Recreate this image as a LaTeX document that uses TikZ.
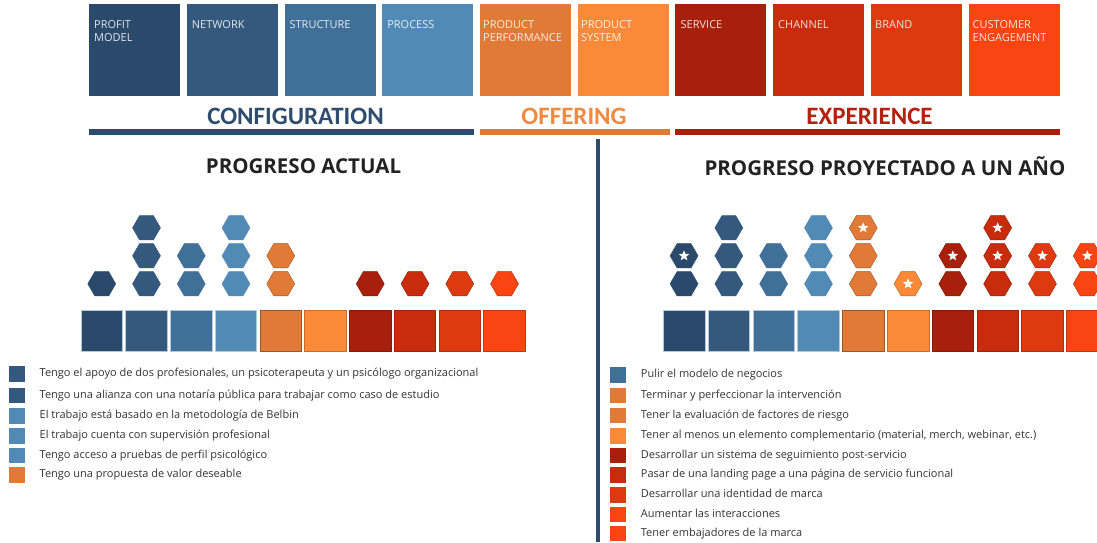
\documentclass[tikz,border=0pt]{standalone}
\usepackage{fontspec}
\setmainfont{Open Sans}
\newfontfamily\headfont{Carlito}
\usetikzlibrary{shapes.geometric}

\definecolor{profit}{HTML}{2B4A6B}
\definecolor{network}{HTML}{35597E}
\definecolor{structure}{HTML}{406F98}
\definecolor{process}{HTML}{508AB5}
\definecolor{performance}{HTML}{E07A36}
\definecolor{system}{HTML}{FA8A38}
\definecolor{service}{HTML}{A8200B}
\definecolor{channel}{HTML}{C92B0D}
\definecolor{brand}{HTML}{DE3A12}
\definecolor{engagement}{HTML}{FA4412}
\definecolor{confcol}{HTML}{2E4D6E}
\definecolor{offercol}{HTML}{F08A40}
\definecolor{expercol}{HTML}{B52010}
\definecolor{legendtext}{HTML}{333333}
\definecolor{headtext}{HTML}{222222}
\definecolor{paleedge}{HTML}{B4C8DC}

\begin{document}
\begin{tikzpicture}[x=1pt, y=-1pt, every node/.style={inner sep=0pt},
	tile/.style={anchor=north west, minimum width=91pt, minimum height=92pt},
	tilename/.style={anchor=north west, align=left, text=white, text opacity=0.85,
		font=\fontsize{11}{13.5}\selectfont},
	group/.style={font=\headfont\bfseries\fontsize{25}{25}\selectfont},
	heading/.style={font=\bfseries\fontsize{20.5}{20.5}\selectfont, text=headtext},
	cell/.style={minimum width=41.5pt, minimum height=41.5pt, line width=0.6pt},
	hex/.style={regular polygon, regular polygon sides=6, minimum size=28pt},
	starmark/.style={star, star points=5, star point ratio=2.3, minimum size=11pt, fill=white},
	key/.style={minimum width=16pt, minimum height=15.5pt},
	keytext/.style={anchor=mid west, text=legendtext, font=\fontsize{11}{13}\selectfont}]
		\useasboundingbox (0,0) rectangle (1097,542);

		% Tiles
		\node[tile, fill=profit] (profit) at (89,4) {};
		\node[tile, fill=network] (network) at (186.7,4) {};
		\node[tile, fill=structure] (structure) at (284.4,4) {};
		\node[tile, fill=process] (process) at (382.1,4) {};
		\node[tile, fill=performance] (performance) at (479.8,4) {};
		\node[tile, fill=system] (system) at (577.5,4) {};
		\node[tile, fill=service] (service) at (675.2,4) {};
		\node[tile, fill=channel] (channel) at (772.9,4) {};
		\node[tile, fill=brand] (brand) at (870.6,4) {};
		\node[tile, fill=engagement] (engagement) at (968.3,4) {};

		\node[tilename] (profit-t) at (94,20) {PROFIT\\MODEL};
		\node[tilename] (network-t) at (191.7,20) {NETWORK};
		\node[tilename] (structure-t) at (289.4,20) {STRUCTURE};
		\node[tilename] (process-t) at (387.1,20) {PROCESS};
		\node[tilename] (performance-t) at (483,20) {PRODUCT\\PERFORMANCE};
		\node[tilename] (system-t) at (581,20) {PRODUCT\\SYSTEM};
		\node[tilename] (service-t) at (680.5,20) {SERVICE};
		\node[tilename] (channel-t) at (778,20) {CHANNEL};
		\node[tilename] (brand-t) at (875,20) {BRAND};
		\node[tilename] (engagement-t) at (972.5,20) {CUSTOMER\\ENGAGEMENT};

		% Groups
		\node[group, text=confcol] (config) at (295.5,116) {CONFIGURATION};
		\node[group, text=offercol] (offer) at (574,116) {OFFERING};
		\node[group, text=expercol] (exper) at (869.5,116) {EXPERIENCE};
		\fill[confcol] (89,128.5) rectangle (474.3,135);
		\fill[performance] (479.8,128.5) rectangle (669.5,135);
		\fill[service] (675.2,128.5) rectangle (1060,135);

		% Divider
		\draw[line width=4pt, confcol] (598,139) -- (598,542);

		% Headings
		\node[heading] (now) at (303.5,166) {PROGRESO ACTUAL};
		\node[heading] (later) at (885,166) {PROGRESO PROYECTADO A UN AÑO};

		% Cells
		\foreach \c/\e [count=\i] in {profit/paleedge, network/paleedge, structure/paleedge,
				process/paleedge, performance/performance!70!black, system/system!80!black,
				service/service!80!black, channel/channel!80!black, brand/brand!80!black,
				engagement/engagement!80!black} {
			\node[cell, fill=\c, draw=\e] (sql-\i) at (101.75+44.75*\i-44.75,330.85) {};
			\node[cell, fill=\c, draw=\e] (sqr-\i) at (684.05+44.8*\i-44.8,330.85) {};
		}

		% Hexagons, now
		\foreach \i/\n/\c/\e in {1/1/profit/profit, 2/3/network/network,
				3/2/structure/structure, 4/3/process/process,
				5/2/performance/performance!70!black, 7/1/service/service!70!black,
				8/1/channel/channel!70!black, 9/1/brand/brand!70!black,
				10/1/engagement/engagement!70!black}
			\foreach \r in {1,...,\n}
				\node[hex, fill=\c, draw=\e] (hl-\i-\r) at (101.75+44.75*\i-44.75,311.8-28*\r) {};

		% Hexagons, one year on (stars from row \s up)
		\foreach \i/\n/\s/\c/\e in {1/2/2/profit/profit, 2/3/4/network/network,
				3/2/4/structure/structure, 4/3/4/process/process,
				5/3/3/performance/performance!70!black, 6/1/1/system/system!70!black,
				7/2/2/service/service!70!black, 8/3/2/channel/channel!70!black,
				9/2/2/brand/brand!70!black, 10/2/2/engagement/engagement!70!black}
			\foreach \r in {1,...,\n} {
				\node[hex, fill=\c, draw=\e] (hr-\i-\r) at (684.05+44.8*\i-44.8,311.8-28*\r) {};
				\ifnum\r<\s\else
					\node[starmark] (st-\i-\r) at (hr-\i-\r.center) {};
				\fi
			}

		% Legend, now
		\node[key, fill=network] (kl-1) at (16.75,374.2) {};
		\node[key, fill=network] (kl-2) at (16.75,395.4) {};
		\node[key, fill=process] (kl-3) at (16.75,416.2) {};
		\node[key, fill=process] (kl-4) at (16.75,436) {};
		\node[key, fill=process] (kl-5) at (16.75,455.5) {};
		\node[key, fill=performance] (kl-6) at (16.75,475) {};
		\node[keytext] at (39.5,374.2) {Tengo el apoyo de dos profesionales, un psicoterapeuta y un psicólogo organizacional};
		\node[keytext] at (39.5,395.4) {Tengo una alianza con una notaría pública para trabajar como caso de estudio};
		\node[keytext] at (39.5,416.2) {El trabajo está basado en la metodología de Belbin};
		\node[keytext] at (39.5,436) {El trabajo cuenta con supervisión profesional};
		\node[keytext] at (39.5,455.5) {Tengo acceso a pruebas de perfil psicológico};
		\node[keytext] at (39.5,475) {Tengo una propuesta de valor deseable};

		% Legend, one year on
		\node[key, fill=structure] (kr-1) at (618,375) {};
		\node[key, fill=performance] (kr-2) at (618,395.5) {};
		\node[key, fill=performance] (kr-3) at (618,415.5) {};
		\node[key, fill=system] (kr-4) at (618,436) {};
		\node[key, fill=service] (kr-5) at (618,455.5) {};
		\node[key, fill=channel] (kr-6) at (618,475) {};
		\node[key, fill=brand] (kr-7) at (618,495) {};
		\node[key, fill=engagement] (kr-8) at (618,514.5) {};
		\node[key, fill=engagement] (kr-9) at (618,533.5) {};
		\node[keytext] at (640.7,375) {Pulir el modelo de negocios};
		\node[keytext] at (640.7,395.5) {Terminar y perfeccionar la intervención};
		\node[keytext] at (640.7,415.5) {Tener la evaluación de factores de riesgo};
		\node[keytext] at (640.7,436) {Tener al menos un elemento complementario (material, merch, webinar, etc.)};
		\node[keytext] at (640.7,455.5) {Desarrollar un sistema de seguimiento post-servicio};
		\node[keytext] at (640.7,475) {Pasar de una landing page a una página de servicio funcional};
		\node[keytext] at (640.7,495) {Desarrollar una identidad de marca};
		\node[keytext] at (640.7,514.5) {Aumentar las interacciones};
		\node[keytext] at (640.7,533.5) {Tener embajadores de la marca};
	\end{tikzpicture}
\end{document}
